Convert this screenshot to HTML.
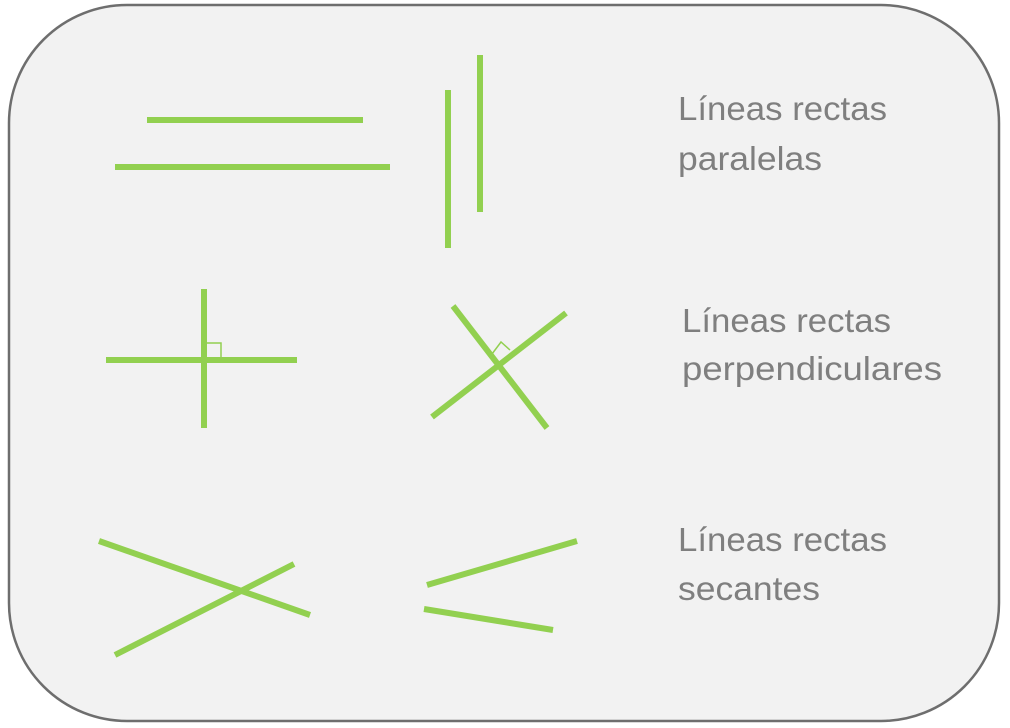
<!DOCTYPE html>
<html><head><meta charset="utf-8"><style>
html,body{margin:0;padding:0;background:#fff;}
svg{display:block}
text{font-family:"Liberation Sans",sans-serif;font-size:33px;fill:#7f7f7f}
</style></head><body>
<svg width="1010" height="728" viewBox="0 0 1010 728">
<rect x="9" y="5" width="990" height="716" rx="118" ry="118" fill="#f2f2f2" stroke="#6e6e6e" stroke-width="2.5"/>
<g stroke="#92d050" stroke-width="6" fill="none">
<line x1="147" y1="120" x2="363" y2="120"/>
<line x1="115" y1="167" x2="390" y2="167"/>
<line x1="448" y1="90" x2="448" y2="248"/>
<line x1="480" y1="55" x2="480" y2="212"/>
<line x1="106" y1="360" x2="297" y2="360"/>
<line x1="204" y1="289" x2="204" y2="428"/>
<line x1="453" y1="306" x2="547" y2="428"/>
<line x1="432" y1="417" x2="566" y2="313"/>
<line x1="99" y1="541" x2="310" y2="615"/>
<line x1="115" y1="655" x2="294" y2="564"/>
<line x1="427" y1="585" x2="577" y2="541"/>
<line x1="424" y1="609" x2="553" y2="630"/>
</g>
<g stroke="#92d050" stroke-width="1.5" fill="none">
<polyline points="207,343 221,343 221,358"/>
<polyline points="492,354 501,342 510,350"/>
</g>
<text x="678" y="120" textLength="209" lengthAdjust="spacingAndGlyphs">Líneas rectas</text>
<text x="678" y="170" textLength="144" lengthAdjust="spacingAndGlyphs">paralelas</text>
<text x="682" y="332" textLength="209" lengthAdjust="spacingAndGlyphs">Líneas rectas</text>
<text x="682" y="380" textLength="260" lengthAdjust="spacingAndGlyphs">perpendiculares</text>
<text x="678" y="551" textLength="209" lengthAdjust="spacingAndGlyphs">Líneas rectas</text>
<text x="678" y="600" textLength="142" lengthAdjust="spacingAndGlyphs">secantes</text>
</svg>
</body></html>
